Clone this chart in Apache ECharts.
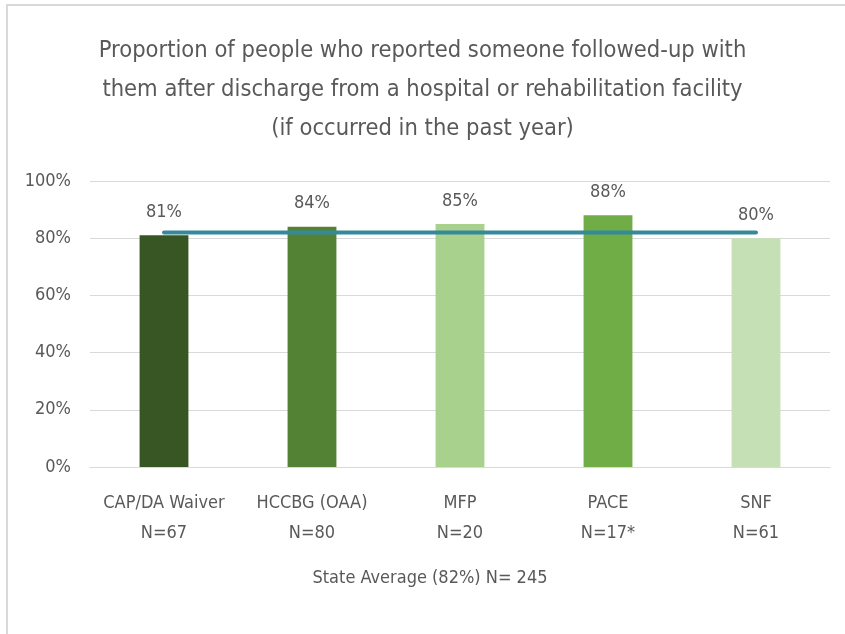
<!DOCTYPE html>
<html><head><meta charset="utf-8">
<script src="https://cdn.jsdelivr.net/npm/echarts@6/dist/echarts.min.js"></script>
<style>html,body{margin:0;padding:0;background:#fff}#c{width:845px;height:634px}</style>
</head><body><div id="c"></div>
<script>
const categories = ['CAP/DA Waiver', 'HCCBG (OAA)', 'MFP', 'PACE', 'SNF'];
const sampleSizes = ['N=67', 'N=80', 'N=20', 'N=17*', 'N=61'];
const values = [81, 84, 85, 88, 80];
const stateAverage = [82, 82, 82, 82, 82];
const barColors = ['#375623', '#548235', '#A9D18E', '#70AD47', '#C5E0B4'];
const yTicks = [0, 20, 40, 60, 80, 100];
const titleText = 'Proportion of people who reported someone followed-up with\nthem after discharge from a hospital or rehabilitation facility\n(if occurred in the past year)';
const footText = 'State Average (82%) N= 245';

const FONT = "'Liberation Sans Narrow', 'DejaVu Sans Condensed', sans-serif";
const chart = echarts.init(document.getElementById('c'), null, {renderer: 'canvas'});
chart.setOption({
  animation: false,
  textStyle: {fontFamily: FONT},
  title: {
    text: titleText, left: 'center', top: 26,
    textStyle: {fontFamily: FONT, fontSize: 23.5, fontWeight: 'normal', color: '#595959', lineHeight: 39}
  },
  graphic: [
    {type: 'rect', shape: {x: 7, y: 5, width: 900, height: 700}, style: {fill: 'none', stroke: '#D9D9D9', lineWidth: 2}, silent: true},
    {type: 'text', x: 430, y: 578, style: {text: footText, fontFamily: FONT, fontSize: 18, fill: '#595959', align: 'center', verticalAlign: 'middle'}}
  ],
  grid: {left: 90, right: 15, top: 181, bottom: 167},
  xAxis: {
    type: 'category', data: categories.map((c, i) => c + '\n' + sampleSizes[i]),
    axisLine: {lineStyle: {color: '#D9D9D9'}}, axisTick: {show: false},
    axisLabel: {color: '#595959', fontSize: 18, lineHeight: 30, margin: 21, fontFamily: FONT, interval: 0}
  },
  yAxis: {
    type: 'value', min: yTicks[0], max: yTicks[yTicks.length - 1], interval: 20,
    axisLine: {show: false}, axisTick: {show: false},
    splitLine: {lineStyle: {color: '#D9D9D9'}},
    axisLabel: {color: '#595959', fontSize: 18, margin: 19, fontFamily: FONT, formatter: v => v + '%'}
  },
  series: [
    {
      type: 'bar', barWidth: '33%',
      data: values.map((v, i) => ({value: v, itemStyle: {color: barColors[i]}})),
      label: {show: true, position: 'top', distance: 14, color: '#595959', fontSize: 18, fontFamily: FONT, formatter: p => p.value + '%'},
      z: 2
    },
    {
      type: 'line', data: stateAverage, symbol: 'none',
      lineStyle: {color: '#35899A', width: 4, cap: 'round'}, z: 3
    }
  ]
});
</script></body></html>
